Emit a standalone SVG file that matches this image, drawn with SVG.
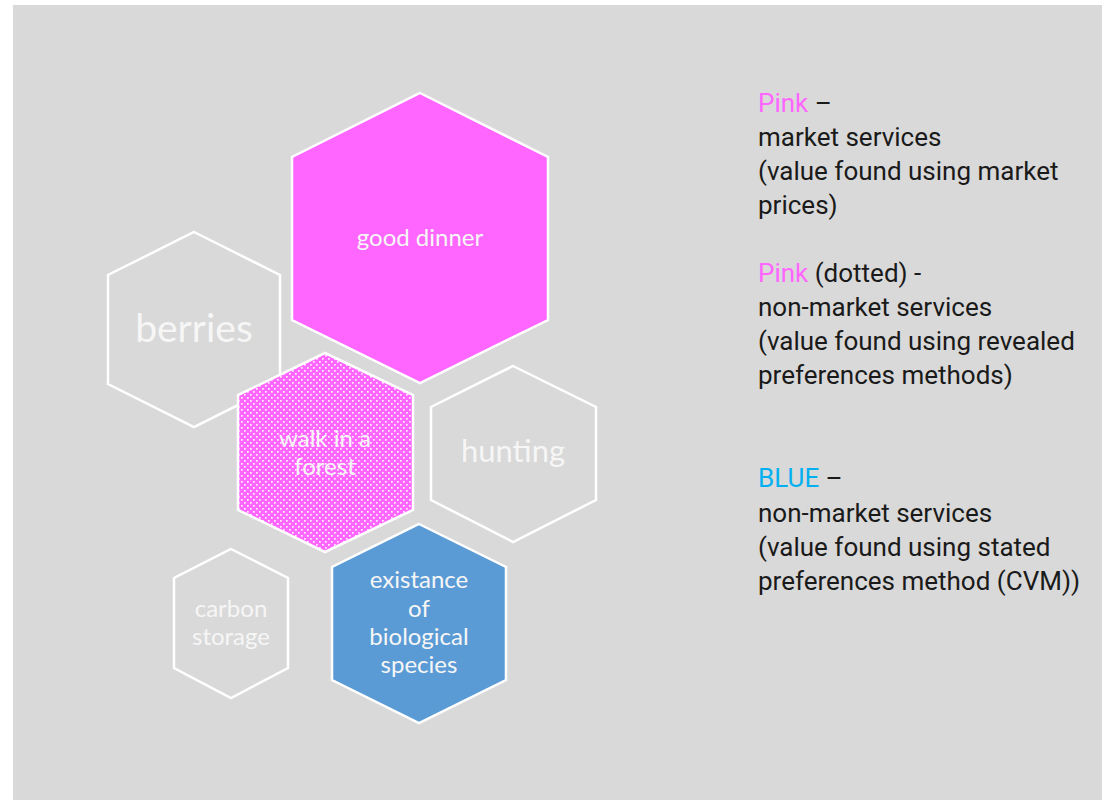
<svg xmlns="http://www.w3.org/2000/svg" width="1102" height="800" viewBox="0 0 1102 800">
  <defs>
    <pattern id="dots" width="6" height="6" patternUnits="userSpaceOnUse">
      <rect width="6" height="6" fill="#ff66ff"/>
      <rect x="1" y="1" width="1.7" height="1.7" fill="#fff0ff"/>
      <rect x="4" y="4" width="1.7" height="1.7" fill="#fff0ff"/>
    </pattern>
    <style>
      .hex { stroke: #ffffff; stroke-width: 2.5; stroke-linejoin: miter; }
      .plain { fill: none; }
      .pink { fill: #ff66ff; }
      .dotted { fill: url(#dots); }
      .blue { fill: #5b9bd5; }
      .lbl { font-family: Lato, "Open Sans", "Liberation Sans", sans-serif; fill: #f6f6f6; text-anchor: middle; }
      .legend { font-family: Roboto, "Liberation Sans", sans-serif; font-size: 26px; fill: #1a1a1a; }
      .kPink { fill: #ff66ff; }
      .kBlue { fill: #00b0f0; }
    </style>
  </defs>

  <!-- canvas -->
  <rect x="0" y="0" width="1102" height="800" fill="#ffffff"/>
  <rect x="13" y="5" width="1089" height="795" fill="#d9d9d9"/>

  <g id="berries">
    <polygon class="hex plain" points="194,232 280,275 280,384 194,427 108,384 108,275"/>
    <text class="lbl" x="194" y="342" font-size="39">berries</text>
  </g>

  <g id="good-dinner">
    <polygon class="hex pink" points="420,93 548,157 548,320 420,383 292,320 292,157"/>
    <text class="lbl" x="420" y="246" font-size="24">good dinner</text>
  </g>

  <g id="hunting">
    <polygon class="hex plain" points="513,366 596,407 596,500 513,542 431,500 431,407"/>
    <text class="lbl" x="513" y="462" font-size="31">hunting</text>
  </g>

  <g id="walk-in-a-forest">
    <polygon class="hex dotted" points="325,353 413,395 413,510 325,552 238,510 238,395"/>
    <text class="lbl" x="325" y="447" font-size="24">walk in a</text>
    <text class="lbl" x="325" y="475" font-size="24">forest</text>
  </g>

  <g id="carbon-storage">
    <polygon class="hex plain" points="231,549 288,578 288,668 231,698 174,668 174,578"/>
    <text class="lbl" x="231" y="617" font-size="24" fill="#eeeeee">carbon</text>
    <text class="lbl" x="231" y="645" font-size="24" fill="#eeeeee">storage</text>
  </g>

  <g id="existance-of-biological-species">
    <polygon class="hex blue" points="419,524 506,567 506,680 419,723 332,680 332,567"/>
    <text class="lbl" x="419" y="588" font-size="24">existance</text>
    <text class="lbl" x="419" y="617" font-size="24">of</text>
    <text class="lbl" x="419" y="645" font-size="24">biological</text>
    <text class="lbl" x="419" y="673" font-size="24">species</text>
  </g>

  <!-- no connectors in this diagram -->
  <g id="connectors"/>

  <g id="legend">
    <text class="legend" x="758" y="111.5"><tspan class="kPink">Pink</tspan> –</text>
    <text class="legend" x="758" y="145.5">market services</text>
    <text class="legend" x="758" y="180">(value found using market</text>
    <text class="legend" x="758" y="213.5">prices)</text>

    <text class="legend" x="758" y="281.5"><tspan class="kPink">Pink</tspan> (dotted) -</text>
    <text class="legend" x="758" y="315.5">non-market services</text>
    <text class="legend" x="758" y="350">(value found using revealed</text>
    <text class="legend" x="758" y="383.5">preferences methods)</text>

    <text class="legend" x="758" y="487"><tspan class="kBlue">BLUE</tspan> –</text>
    <text class="legend" x="758" y="521.5">non-market services</text>
    <text class="legend" x="758" y="556">(value found using stated</text>
    <text class="legend" x="758" y="590">preferences method (CVM))</text>
  </g>
</svg>
